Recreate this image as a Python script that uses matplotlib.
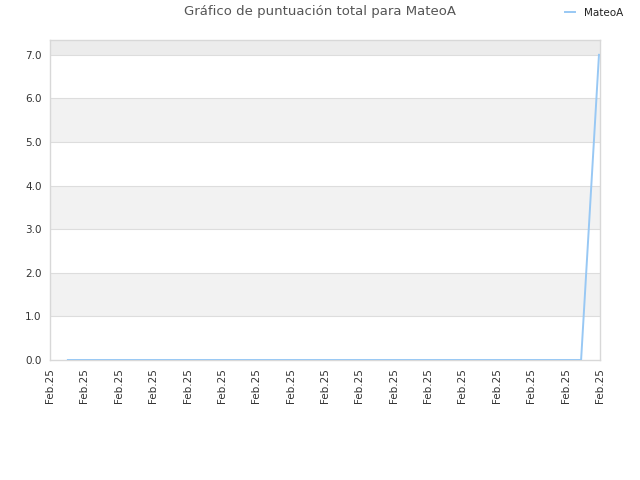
import matplotlib
matplotlib.use("Agg")
import matplotlib.pyplot as plt
from matplotlib.lines import Line2D

# data
x_vals = [0.52, 15.45, 15.97]
y_vals = [0.0, 0.0, 7.0]
x_ticks = list(range(17))
x_labels = ["Feb.25"] * 17
y_ticks = [0, 1, 2, 3, 4, 5, 6, 7]
y_labels = ["0.0", "1.0", "2.0", "3.0", "4.0", "5.0", "6.0", "7.0"]
series_name = "MateoA"
title = "Gráfico de puntuación total para MateoA"

fig = plt.figure(figsize=(6.4, 4.8), dpi=100)
ax = fig.add_axes([50/640, 120/480, 550/640, 320/480])
ymax = 7.34
ax.set_xlim(0, 16)
ax.set_ylim(0, ymax)

# alternating bands
for i in range(8):
    top = min(i + 1, ymax)
    if i == 7:
        col = "#ececec"
    elif i % 2 == 1:
        col = "#f2f2f2"
    else:
        col = "#ffffff"
    ax.axhspan(i, top, color=col, zorder=0, lw=0)
for yv in y_ticks[1:]:
    ax.axhline(yv, color="#dddddd", lw=0.8, zorder=1)

ax.plot(x_vals, y_vals, color="#98c8f4", lw=1.4, zorder=3)

ax.set_xticks(x_ticks)
ax.set_xticklabels(x_labels, rotation=90, fontsize=7.5, color="#333333")
ax.set_yticks(y_ticks)
ax.set_yticklabels(y_labels, fontsize=7.5, color="#333333")
ax.tick_params(length=0, pad=6)
for s in ax.spines.values():
    s.set_color("#d8d8d8")
    s.set_linewidth(1)

fig.text(0.5, 1 - 12/480, title, ha="center", va="center", fontsize=9.5, color="#555555")
fig.legend(handles=[Line2D([0], [0], color="#98c8f4", lw=1.4)], labels=[series_name],
           loc="center right", bbox_to_anchor=(633/640, 1 - 13/480), frameon=False,
           fontsize=7.5, handlelength=1.0, handletextpad=0.9, labelcolor="#222222")

fig.savefig("out.png", dpi=100, facecolor="white")
